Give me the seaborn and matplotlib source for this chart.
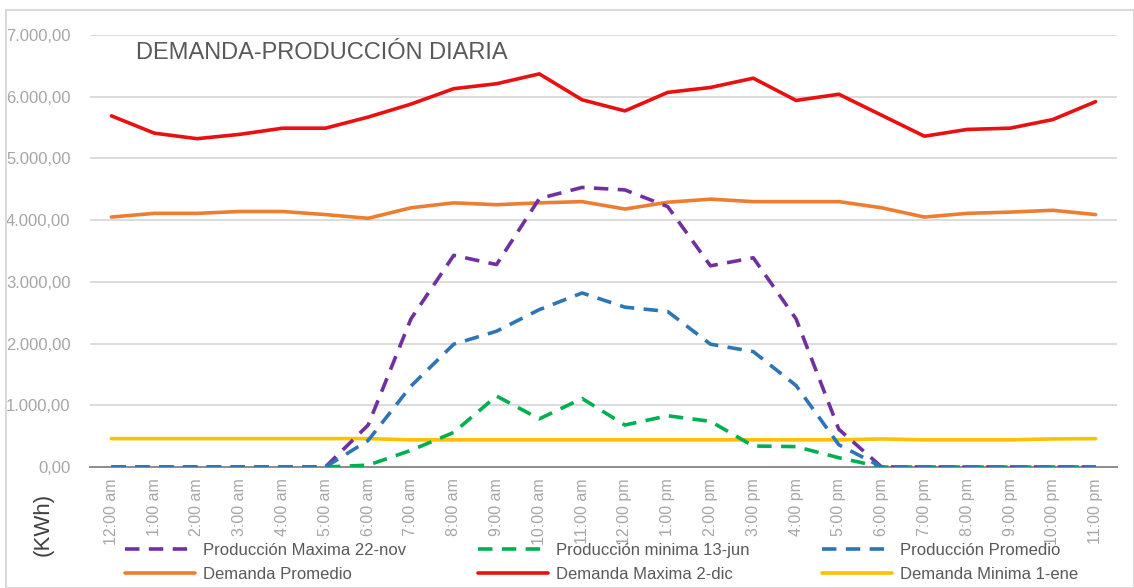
import numpy as np
import pandas as pd
import matplotlib
matplotlib.use("Agg")
import matplotlib.pyplot as plt
import seaborn as sns
from matplotlib.patches import Rectangle
from matplotlib.ticker import FuncFormatter

hours = ["12:00 am", "1:00 am", "2:00 am", "3:00 am", "4:00 am", "5:00 am", "6:00 am",
         "7:00 am", "8:00 am", "9:00 am", "10:00 am", "11:00 am", "12:00 pm", "1:00 pm",
         "2:00 pm", "3:00 pm", "4:00 pm", "5:00 pm", "6:00 pm", "7:00 pm", "8:00 pm",
         "9:00 pm", "10:00 pm", "11:00 pm"]

prod_max = [0, 0, 0, 0, 0, 0, 680, 2400, 3430, 3280, 4350, 4530, 4490, 4220, 3260, 3390,
            2400, 610, 0, 0, 0, 0, 0, 0]
prod_min = [0, 0, 0, 0, 0, 0, 30, 270, 560, 1150, 780, 1110, 680, 830, 740, 340,
            330, 150, 0, 0, 0, 0, 0, 0]
prod_prom = [0, 0, 0, 0, 0, 0, 430, 1310, 1990, 2200, 2550, 2820, 2590, 2520, 1990, 1870,
             1320, 360, 0, 0, 0, 0, 0, 0]
dem_prom = [4050, 4110, 4110, 4140, 4140, 4090, 4030, 4200, 4280, 4250, 4280, 4300, 4180,
            4290, 4340, 4300, 4300, 4300, 4200, 4050, 4110, 4130, 4160, 4090]
dem_max = [5690, 5410, 5320, 5390, 5490, 5490, 5670, 5880, 6130, 6210, 6370, 5950, 5770,
           6070, 6150, 6300, 5940, 6040, 5700, 5360, 5470, 5490, 5630, 5920]
dem_min = [460, 460, 460, 460, 460, 460, 460, 440, 440, 440, 440, 440, 440, 440, 440, 440,
           440, 440, 455, 440, 440, 440, 455, 460]

series_names = ["Producción Maxima 22-nov", "Producción minima 13-jun", "Producción Promedio",
                "Demanda Promedio", "Demanda Maxima 2-dic", "Demanda Minima 1-ene"]
series_values = [prod_max, prod_min, prod_prom, dem_prom, dem_max, dem_min]
colors = ["#7030A0", "#00B050", "#2E75B6", "#ED7D31", "#E81010", "#FFC000"]
dashed = [True, True, True, False, False, False]

yticks = [0, 1000, 2000, 3000, 4000, 5000, 6000, 7000]

W, H = 1134, 588
fig = plt.figure(figsize=(W / 100, H / 100), dpi=100)
sns.set_style("white")
plt.rcParams['font.family'] = ['Liberation Sans', 'DejaVu Sans']

ax = fig.add_axes([90 / W, 1 - 467 / H, (1117 - 90) / W, (467 - 35) / H])

x = np.arange(len(hours))
handles = []
for name, vals, col, d in zip(series_names, series_values, colors, dashed):
    df = pd.DataFrame({"x": x, "y": vals})
    sns.lineplot(data=df, x="x", y="y", ax=ax, color=col, lw=2.6, legend=False)
    ln = ax.lines[-1]
    ln.set_label(name)
    if d:
        ln.set_dashes((4, 2.6))
    handles.append(ln)

for ln in handles[:3]:
    ln.set_zorder(4)
for ln in handles[3:]:
    ln.set_zorder(3)

ax.set_xlim(-0.5, len(hours) - 0.5)
ax.set_ylim(0, 7000)
ax.set_yticks(yticks)
ax.yaxis.set_major_formatter(FuncFormatter(
    lambda v, p: f"{v:,.2f}".replace(",", "X").replace(".", ",").replace("X", ".")))
ax.set_xticks(x)
ax.set_xticklabels(hours, rotation=90, va="top", ha="center")
ax.tick_params(axis="both", length=0, labelcolor="#A6A6A6")
ax.tick_params(axis="x", pad=8, labelsize=11.5)
ax.tick_params(axis="y", pad=14, labelsize=12)
ax.grid(axis="y", color="#D9D9D9", lw=1.3)
ax.set_axisbelow(True)
for s in ["top", "right", "left"]:
    ax.spines[s].set_visible(False)
ax.spines["bottom"].set_color("#8C8C8C")
ax.spines["bottom"].set_linewidth(1.4)
ax.set_xlabel("")
ax.set_ylabel("")

fig.text(136 / W, 1 - 53 / H, "DEMANDA-PRODUCCIÓN DIARIA", fontsize=17, color="#595959",
         ha="left", va="center")

fig.text(43 / W, 1 - 524 / H, "(KWh)", rotation=90, fontsize=16, color="#404040",
         ha="center", va="center")

order = [0, 3, 1, 4, 2, 5]
leg = fig.legend([handles[i] for i in order], [series_names[i] for i in order],
                 ncol=3, loc="upper left", bbox_to_anchor=(125 / W, 1 - 543 / H),
                 frameon=False, fontsize=12, handlelength=4.2, columnspacing=4.3,
                 labelspacing=0.55, handletextpad=0.5, borderaxespad=0, borderpad=0)
for t in leg.get_texts():
    t.set_color("#595959")

fig.patches.append(Rectangle((6 / W, 0), 1 - 6 / W, 1 - 10 / H, transform=fig.transFigure,
                             fill=False, edgecolor="#D9D9D9", lw=1.5))

fig.savefig("out.png", dpi=100)
